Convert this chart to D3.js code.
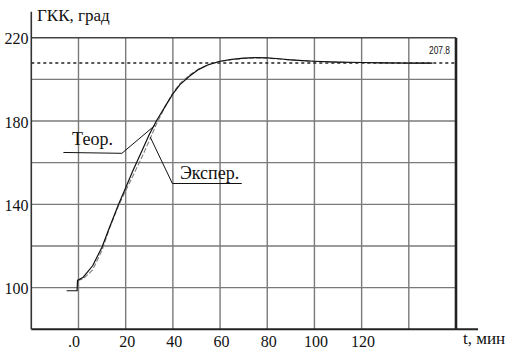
<!DOCTYPE html>
<html><head><meta charset="utf-8">
<script src="https://cdn.jsdelivr.net/npm/d3@7"></script>
<style>body{margin:0;background:#fff}svg{display:block}
.serif{font-family:"Liberation Serif","Times New Roman",Times,serif}
.sans{font-family:"Liberation Sans",Arial,sans-serif}
</style>
</head><body>
<svg id="c" width="516" height="355"></svg>
<script>
// ---- data ----
const theoryT = [-5, -0.6, -0.4, 2, 6, 10, 13, 17, 20, 23, 27, 30, 33, 37, 40, 43, 47, 51, 55, 60, 65, 70, 75, 80, 85, 90, 95, 100, 110, 120, 130, 140, 150];
const theoryV = [98.5, 98.5, 103.5, 105, 110.5, 119.5, 128.5, 140, 148, 156, 166, 173.5, 180, 187.5, 193, 197.5, 201.5, 204.8, 207, 208.7, 209.6, 210.2, 210.4, 210.3, 209.9, 209.4, 209, 208.7, 208.3, 208.1, 207.9, 207.8, 207.8];
const experT = [-0.4, 2, 6, 10, 13, 17, 20, 23, 27, 30, 33, 37, 40, 43, 47, 51, 55, 60, 65, 70, 75, 80, 90, 100, 110, 120, 130, 140, 150];
const experV = [103.5, 104.2, 108.5, 118, 128, 139.5, 146.5, 153.5, 163, 170.5, 178.5, 187.5, 193.5, 198, 202, 205, 207, 208.6, 209.5, 210, 210.3, 210.2, 209.3, 208.6, 208.2, 208, 207.9, 207.8, 207.8];
const steadyValue = 207.8;
const xGridValues = [0, 20, 40, 60, 80, 100, 120, 140];
const xTickValues = [0, 20, 40, 60, 80, 100, 120];
const xTickLabels = [".0", "20", "40", "60", "80", "100", "120"];
const yGridValues = [100, 120, 140, 160, 180, 200];
const yTickValues = [220, 180, 140, 100];
const yTickLabels = ["220", "180", "140", "100"];
const yTitle = "ГКК, град";
const xTitle = "t, мин";
const theoryLabel = "Теор.";
const experLabel = "Экспер.";
// annotation anchors in data units
const theoryLeader = [[-6.4, 164.9], [18.4, 164.5], [32.5, 178]];
const theoryLabelPos = [-2.7, 168.5];
const experLeader = [[30.4, 172.3], [39.8, 150], [69.2, 150]];
const experLabelPos = [43, 152.4];

// ---- scales ----
const svg = d3.select("#c");
const x = d3.scaleLinear().domain([-20, 160]).range([31.3, 456]);
const y = d3.scaleLinear().domain([80, 220]).range([329.3, 37.7]);

// grid
const g = svg.append("g");
g.selectAll(".vg").data(xGridValues).enter().append("line")
  .attr("x1", d => x(d)).attr("x2", d => x(d))
  .attr("y1", y(220)).attr("y2", y(80))
  .attr("stroke", "#7a7a7a").attr("stroke-width", 1.4);
g.selectAll(".hg").data(yGridValues).enter().append("line")
  .attr("x1", x(-20)).attr("x2", x(160))
  .attr("y1", d => y(d)).attr("y2", d => y(d))
  .attr("stroke", "#7a7a7a").attr("stroke-width", 1.4);

// frame / axes
svg.append("line").attr("x1", x(-20)).attr("x2", x(160)).attr("y1", y(220)).attr("y2", y(220))
  .attr("stroke", "#444").attr("stroke-width", 1.6);
svg.append("line").attr("x1", x(160)).attr("x2", x(160)).attr("y1", y(220)).attr("y2", y(80))
  .attr("stroke", "#222").attr("stroke-width", 2.6);
svg.append("line").attr("x1", x(-20)).attr("x2", x(160) + 22).attr("y1", y(80)).attr("y2", y(80))
  .attr("stroke", "#222").attr("stroke-width", 2);
svg.append("line").attr("x1", x(-20)).attr("x2", x(-20)).attr("y1", y(220) - 26).attr("y2", y(80))
  .attr("stroke", "#333").attr("stroke-width", 1.6);

// steady-state dashed line
svg.append("line").attr("x1", x(-20)).attr("x2", x(160)).attr("y1", y(steadyValue)).attr("y2", y(steadyValue))
  .attr("stroke", "#222").attr("stroke-width", 1.5).attr("stroke-dasharray", "3,3");
svg.append("text").attr("class", "sans").attr("x", x(160) - 27).attr("y", y(steadyValue) - 9)
  .attr("textLength", 21).attr("lengthAdjust", "spacingAndGlyphs")
  .style("font-size", "10px").attr("fill", "#111").text(steadyValue.toFixed(1));

// curves
const line = d3.line().x(d => x(d[0])).y(d => y(d[1]));
svg.append("path").datum(experT.map((t, i) => [t, experV[i]]))
  .attr("d", line).attr("fill", "none").attr("stroke", "#808080")
  .attr("stroke-width", 1.1).attr("stroke-dasharray", "5,2");
svg.append("path").datum(theoryT.map((t, i) => [t, theoryV[i]]))
  .attr("d", line).attr("fill", "none").attr("stroke", "#111").attr("stroke-width", 1.2);

// annotations
svg.append("path").datum(theoryLeader).attr("d", line).attr("fill", "none").attr("stroke", "#111").attr("stroke-width", 1);
svg.append("path").datum(experLeader).attr("d", line).attr("fill", "none").attr("stroke", "#111").attr("stroke-width", 1);
svg.append("text").attr("class", "serif").attr("x", x(theoryLabelPos[0])).attr("y", y(theoryLabelPos[1]))
  .style("font-size", "18px").attr("fill", "#111").text(theoryLabel);
svg.append("text").attr("class", "serif").attr("x", x(experLabelPos[0])).attr("y", y(experLabelPos[1]))
  .style("font-size", "18px").attr("fill", "#111").text(experLabel);

// tick labels
svg.selectAll(".xt").data(xTickValues).enter().append("text").attr("class", "serif")
  .attr("x", (d, i) => x(d) + (i === 0 ? -4.5 : 1.5)).attr("y", 347)
  .attr("text-anchor", "middle").style("font-size", "16px").attr("fill", "#111")
  .text((d, i) => xTickLabels[i]);
svg.selectAll(".yt").data(yTickValues).enter().append("text").attr("class", "serif")
  .attr("x", 28.5).attr("y", d => y(d) + 1).attr("dy", "0.35em")
  .attr("text-anchor", "end").style("font-size", "16px").attr("fill", "#111")
  .text((d, i) => yTickLabels[i]);

// titles
svg.append("text").attr("class", "serif").attr("x", 37).attr("y", 21).style("font-size", "17px").attr("fill", "#111").text(yTitle);
svg.append("text").attr("class", "serif").attr("x", 463).attr("y", 344).style("font-size", "17px").attr("fill", "#111").text(xTitle);
</script>
</body></html>
